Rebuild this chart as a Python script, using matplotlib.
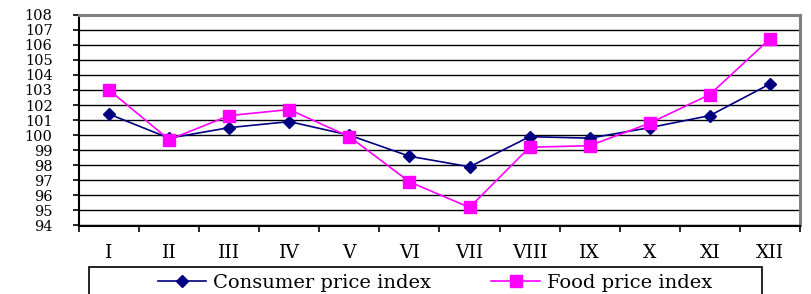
import numpy as np
import matplotlib; matplotlib.use("Agg")
import matplotlib.pyplot as plt
from matplotlib.patches import Rectangle
from matplotlib.ticker import MultipleLocator, FixedLocator

months = ["I", "II", "III", "IV", "V", "VI", "VII", "VIII", "IX", "X", "XI", "XII"]
consumer = [101.4, 99.8, 100.5, 100.9, 100.0, 98.6, 97.9, 99.9, 99.8, 100.5, 101.3, 103.4]
food = [103.0, 99.7, 101.3, 101.7, 99.9, 96.9, 95.2, 99.2, 99.3, 100.8, 102.7, 106.4]

plt.rcParams["font.family"] = ["DejaVu Serif"]

W, H = 812, 294
fig = plt.figure(figsize=(W/100, H/100), dpi=100)
ax = fig.add_axes([79/W, 1-225.5/H, (800-79)/W, (225.5-14.7)/H])

x = np.arange(len(months))
ax.plot(x, consumer, color="#000080", lw=1.2, marker="D", ms=6.5,
        label="Consumer price index", zorder=3)
ax.plot(x, food, color="#FF00FF", lw=1.2, marker="s", ms=9,
        label="Food price index", zorder=3)

ax.set_xlim(-0.5, 11.5)
ax.set_ylim(94, 108)
ax.yaxis.set_major_locator(MultipleLocator(1))
ax.grid(axis="y", color="black", lw=1.0, zorder=1)
ax.set_axisbelow(True)

ax.set_xticks(x)
ax.set_xticklabels(months, fontsize=13.5)
ax.xaxis.set_minor_locator(FixedLocator(np.arange(-0.5, 12, 1)))
ax.tick_params(axis="x", which="major", length=0, pad=13)
ax.tick_params(axis="x", which="minor", length=4.5, width=1.2, direction="out")
ax.tick_params(axis="y", length=4, width=1.2, pad=15, labelsize=10.5)

for s in ["left", "bottom"]:
    ax.spines[s].set_linewidth(1.5)
    ax.spines[s].set_color("black")
for s in ["top", "right"]:
    ax.spines[s].set_linewidth(2.2)
    ax.spines[s].set_color("#808080")

# legend box (cut off at the bottom edge like the original)
fig.patches.append(Rectangle((89/W, -0.05), (762-89)/W, 0.05 + 1-267/H,
                             transform=fig.transFigure, fill=False,
                             edgecolor="black", lw=1.2))
leg = fig.legend(loc="center left", bbox_to_anchor=(148/W, 1-283/H), ncol=2,
                 fontsize=14, frameon=False, borderpad=0, handlelength=2.5,
                 handletextpad=0.35, columnspacing=3.1, markerscale=1.0)

fig.savefig("out.png", dpi=100)
